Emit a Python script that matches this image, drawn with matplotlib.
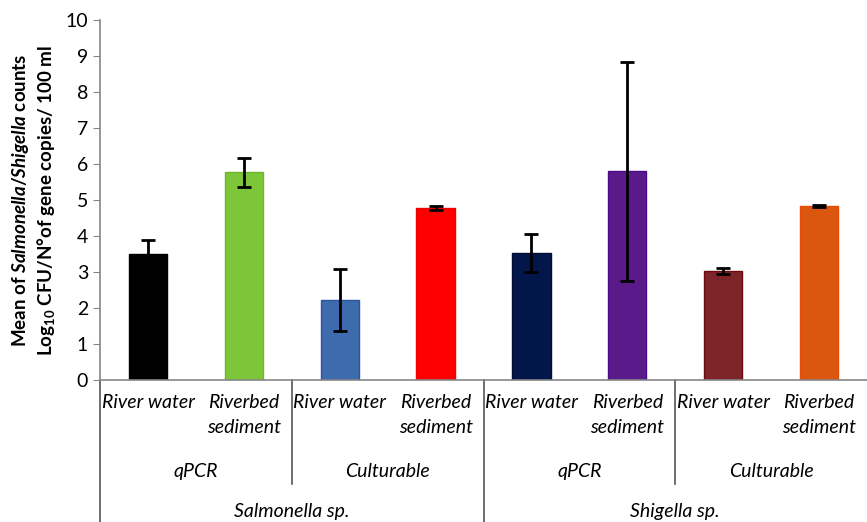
import matplotlib.pyplot as plt

plt.rcParams['font.family'] = ['Lato', 'DejaVu Sans']
plt.rcParams['mathtext.fontset'] = 'custom'
plt.rcParams['mathtext.rm'] = 'Lato:bold'
plt.rcParams['mathtext.it'] = 'Lato:italic:bold'

samples = ['River water', 'Riverbed\nsediment'] * 4
methods = ['qPCR', 'Culturable', 'qPCR', 'Culturable']
species = ['Salmonella sp.', 'Shigella sp.']
means = [3.49, 5.77, 2.22, 4.78, 3.53, 5.80, 3.03, 4.84]
errors = [0.40, 0.40, 0.86, 0.06, 0.53, 3.04, 0.08, 0.03]
colors = ['#000000', '#7dc63a', '#3e6aae', '#ff0000',
          '#03164a', '#5a1a8a', '#7e252a', '#db560e']
edges = ['#000000', '#6bb62a', '#2c55a0', '#ee0000',
         '#020c35', '#4a0c88', '#6a0a10', '#e84a08']

fig = plt.figure(figsize=(8.67, 5.22), dpi=100)
ax = fig.add_axes([100 / 867, 142 / 522, 767 / 867, 360 / 522])

x = [i + 0.5 for i in range(len(means))]
ax.bar(x, means, width=0.4, color=colors, edgecolor=edges, linewidth=1,
       yerr=errors, capsize=5,
       error_kw=dict(elinewidth=2, capthick=2, ecolor='black'))

ax.set_xlim(0, 8)
ax.set_ylim(0, 10)
ax.set_yticks(range(0, 11))
ax.tick_params(axis='y', labelsize=14, length=5, color='#868686', direction='out')
ax.set_xticks([])
for s in ['top', 'right']:
    ax.spines[s].set_visible(False)
ax.spines['left'].set_color('#868686')
ax.spines['bottom'].set_color('#868686')
ax.spines['left'].set_linewidth(1.2)
ax.spines['bottom'].set_linewidth(1.2)

ax.set_ylabel('Mean of $\\mathit{Salmonella/Shigella}$ counts\n'
              'Log$_{10}$ CFU/N°of gene copies/ 100 ml',
              fontsize=13.5, fontweight='bold', labelpad=6, linespacing=1.25)

tr = ax.get_xaxis_transform()
# separators of the grouped category axis
for xs, ybot in [(0, -0.4), (2, -0.29), (4, -0.4), (6, -0.29)]:
    ax.plot([xs, xs], [0, ybot], transform=tr, color='#555555', lw=1.2,
            clip_on=False)

for xi, lab in zip(x, samples):
    ax.text(xi, -0.04, lab, transform=tr, ha='center', va='top',
            fontsize=14, style='italic', linespacing=1.55)
for i, m in enumerate(methods):
    ax.text(2 * i + 1, -0.255, m, transform=tr, ha='center', va='center',
            fontsize=14, style='italic')
for i, sp in enumerate(species):
    ax.text(4 * i + 2, -0.365, sp, transform=tr, ha='center', va='center',
            fontsize=14, style='italic')

fig.savefig('out.png', dpi=100)
